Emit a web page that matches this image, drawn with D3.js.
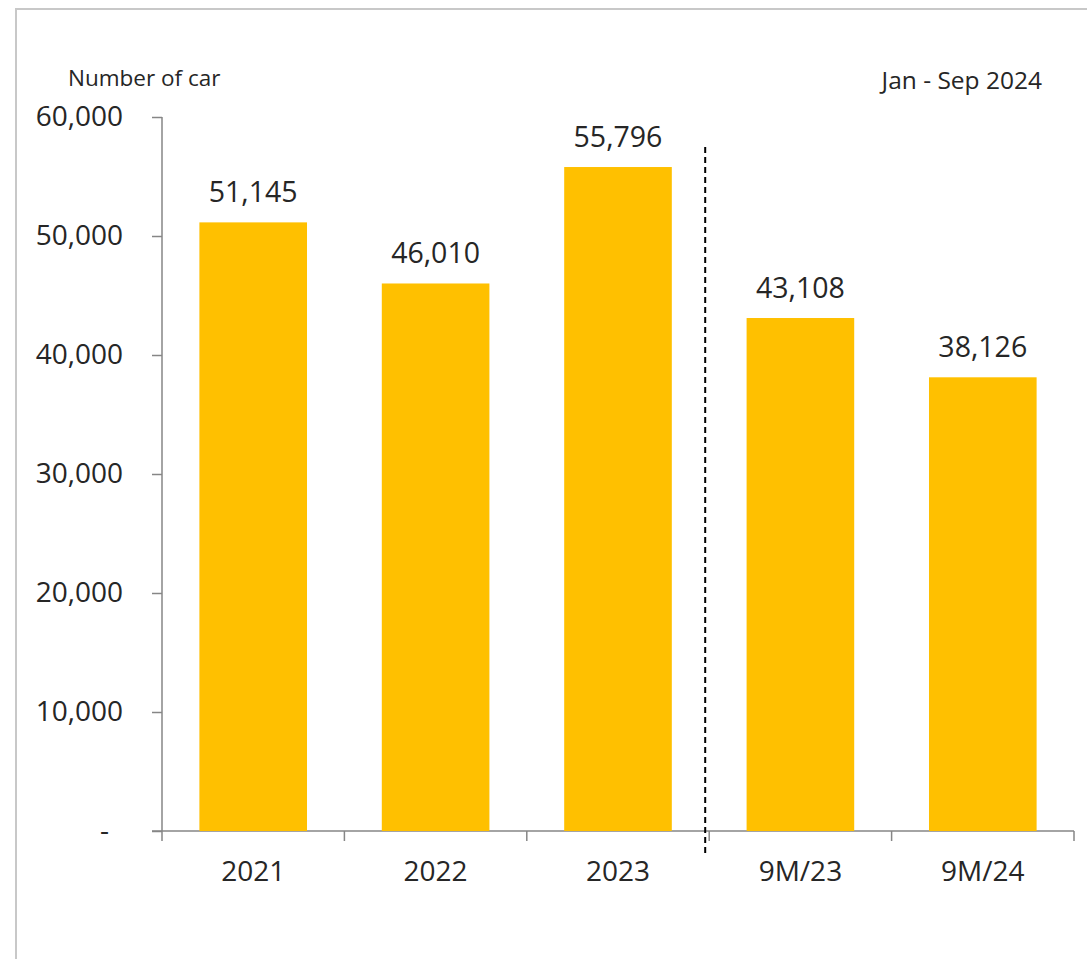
<!DOCTYPE html>
<html>
<head>
<meta charset="utf-8">
<script src="https://cdn.jsdelivr.net/npm/d3@7"></script>
<style>
    body { margin: 0; background: #fff; }
    svg { display: block; }
    text { font-family: "Open Sans", sans-serif; fill: #262626; }
</style>
</head>
<body>
<div id="chart"></div>
<script>
/* * * * * * * * * * * * * * *
*        Car sales bars        *
* * * * * * * * * * * * * * */

const categories = ["2021", "2022", "2023", "9M/23", "9M/24"];
const carCounts = [51145, 46010, 55796, 43108, 38126];
const yTicks = [0, 10000, 20000, 30000, 40000, 50000, 60000];
const yLabel = "Number of car";
const periodLabel = "Jan - Sep 2024";
const splitAfter = "2023";

const width = 1087, height = 959;
const margin = {top: 117, right: 13, bottom: 128, left: 162};

let svg = d3.select("#chart")
    .append("svg")
    .attr("width", width)
    .attr("height", height);

// outer frame (only top & left edges show in the window)
svg.append("rect")
    .attr("x", 16)
    .attr("y", 9)
    .attr("width", width + 20)
    .attr("height", height + 20)
    .attr("fill", "none")
    .attr("stroke", "#c8c8c8")
    .attr("stroke-width", 2);

let innerW = width - margin.left - margin.right;
let innerH = height - margin.top - margin.bottom;

let g = svg.append("g")
    .attr("transform", `translate(${margin.left},${margin.top})`);

let x = d3.scaleBand()
    .domain(categories)
    .range([0, innerW])
    .paddingInner(0.41)
    .paddingOuter(0.205);

// band boundaries for the x ticks
let xEdge = d3.scaleLinear().domain([0, categories.length]).range([0, innerW]);

let y = d3.scaleLinear()
    .domain([0, 60000])
    .range([innerH, 0]);

let fmt = d3.format(",");

// y axis
let yAxis = g.append("g")
    .call(d3.axisLeft(y)
        .tickValues(yTicks)
        .tickSize(10)
        .tickPadding(29)
        .tickFormat(d => d === 0 ? "-" : fmt(d)));

yAxis.selectAll("path, line").attr("stroke", "#868686").attr("stroke-width", 1.5);
yAxis.select(".domain").attr("d", `M0,${innerH}V0`);
yAxis.selectAll("text")
    .attr("font-size", "28px")
    .attr("font-family", "\"Open Sans\", sans-serif")
    .attr("fill", "#262626")
    .attr("dx", d => d === 0 ? -14 : 0);

// x axis: line plus ticks at category edges
let xAxis = g.append("g").attr("transform", `translate(0,${innerH})`);
xAxis.append("line")
    .attr("x1", -10).attr("x2", innerW)
    .attr("stroke", "#868686").attr("stroke-width", 1.5);
xAxis.selectAll(".edge")
    .data(d3.range(categories.length + 1))
    .enter().append("line")
    .attr("class", "edge")
    .attr("x1", d => xEdge(d)).attr("x2", d => xEdge(d))
    .attr("y1", 0).attr("y2", 10)
    .attr("stroke", "#868686").attr("stroke-width", 1.5);
xAxis.selectAll(".cat")
    .data(categories)
    .enter().append("text")
    .attr("class", "cat")
    .attr("x", d => x(d) + x.bandwidth() / 2)
    .attr("y", 50)
    .attr("text-anchor", "middle")
    .attr("font-size", "28px")
    .text(d => d);

// bars
g.selectAll(".bar")
    .data(categories)
    .enter().append("rect")
    .attr("class", "bar")
    .attr("x", d => x(d))
    .attr("y", (d, i) => y(carCounts[i]))
    .attr("width", x.bandwidth())
    .attr("height", (d, i) => innerH - y(carCounts[i]))
    .attr("fill", "#ffc000");

// value labels
g.selectAll(".val")
    .data(categories)
    .enter().append("text")
    .attr("class", "val")
    .attr("x", d => x(d) + x.bandwidth() / 2)
    .attr("y", (d, i) => y(carCounts[i]) - 20)
    .attr("text-anchor", "middle")
    .attr("font-size", "28.5px")
    .text((d, i) => fmt(carCounts[i]));

// dashed divider between full years and 9M
let splitX = xEdge(categories.indexOf(splitAfter) + 1) - 4;
g.append("line")
    .attr("x1", splitX).attr("x2", splitX)
    .attr("y1", 30).attr("y2", innerH + 25)
    .attr("stroke", "#000")
    .attr("stroke-width", 2)
    .attr("stroke-dasharray", "6,4");

// titles
svg.append("text")
    .attr("x", 68)
    .attr("y", 86)
    .attr("font-size", "22.5px")
    .text(yLabel);

svg.append("text")
    .attr("x", 1042)
    .attr("y", 89)
    .attr("text-anchor", "end")
    .attr("font-size", "24.5px")
    .text(periodLabel);
</script>
</body>
</html>
